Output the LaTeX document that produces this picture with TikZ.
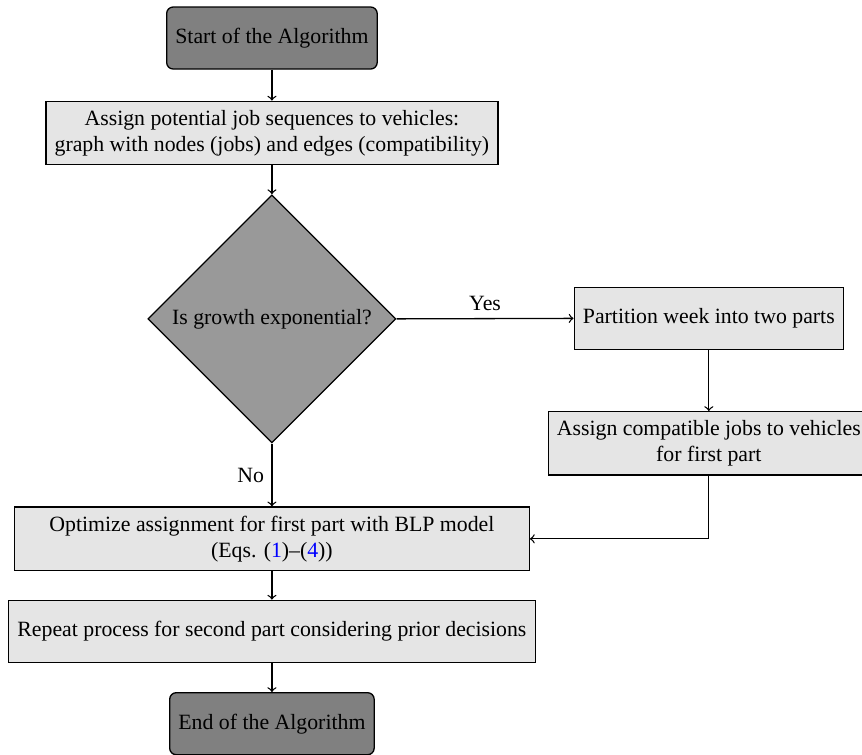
\documentclass[tikz,border=0pt]{standalone}
\usepackage{fontspec}
\setmainfont{Liberation Serif}
\usepackage{tikz}
\usetikzlibrary{shapes.geometric}

\begin{document}
\begin{tikzpicture}[semithick,
  startstop/.style={rectangle, rounded corners=3pt, draw, fill=gray, minimum height=1cm, inner sep=4pt},
  process/.style={rectangle, draw, fill=gray!20, align=center, minimum height=1cm, inner sep=4pt},
  decision/.style={diamond, draw, fill=gray!80, aspect=1, minimum size=4cm, inner sep=1pt}]
\useasboundingbox (0,0) rectangle (13.9,-12.16);
%\draw [help lines, step=1cm] (0,0) grid (13.9,-12.16);

\node [startstop] (start) at (4.385,-0.613) {Start of the Algorithm};
\node [process] (assign) at (4.385,-2.144) {Assign potential job sequences to vehicles:\\graph with nodes (jobs) and edges (compatibility)};
\node [decision] (growth) at (4.385,-5.142) {Is growth exponential?};
\node [process] (partition) at (11.43,-5.134) {Partition week into two parts};
\node [process] (compat) at (11.43,-7.149) {Assign compatible jobs to vehicles\\for first part};
\node [process, minimum width=8.3cm] (optimize) at (4.385,-8.689) {Optimize assignment for first part with BLP model\\(Eqs. (\textcolor{blue}{1})--(\textcolor{blue}{4}))};
\node [process] (repeat) at (4.385,-10.18) {Repeat process for second part considering prior decisions};
\node [startstop] (end) at (4.385,-11.67) {End of the Algorithm};

\draw [->] (start) -- (assign);
\draw [->] (assign) -- (growth);
\draw [->] (growth.east) -- node [above] {Yes} (partition.west);
\draw [->] (partition) -- (compat);
\draw [->] (compat.south) |- (optimize.east);
\draw [->] (growth.south) -- node [left] {No} (optimize.north);
\draw [->] (optimize) -- (repeat);
\draw [->] (repeat) -- (end);
\end{tikzpicture}
\end{document}
